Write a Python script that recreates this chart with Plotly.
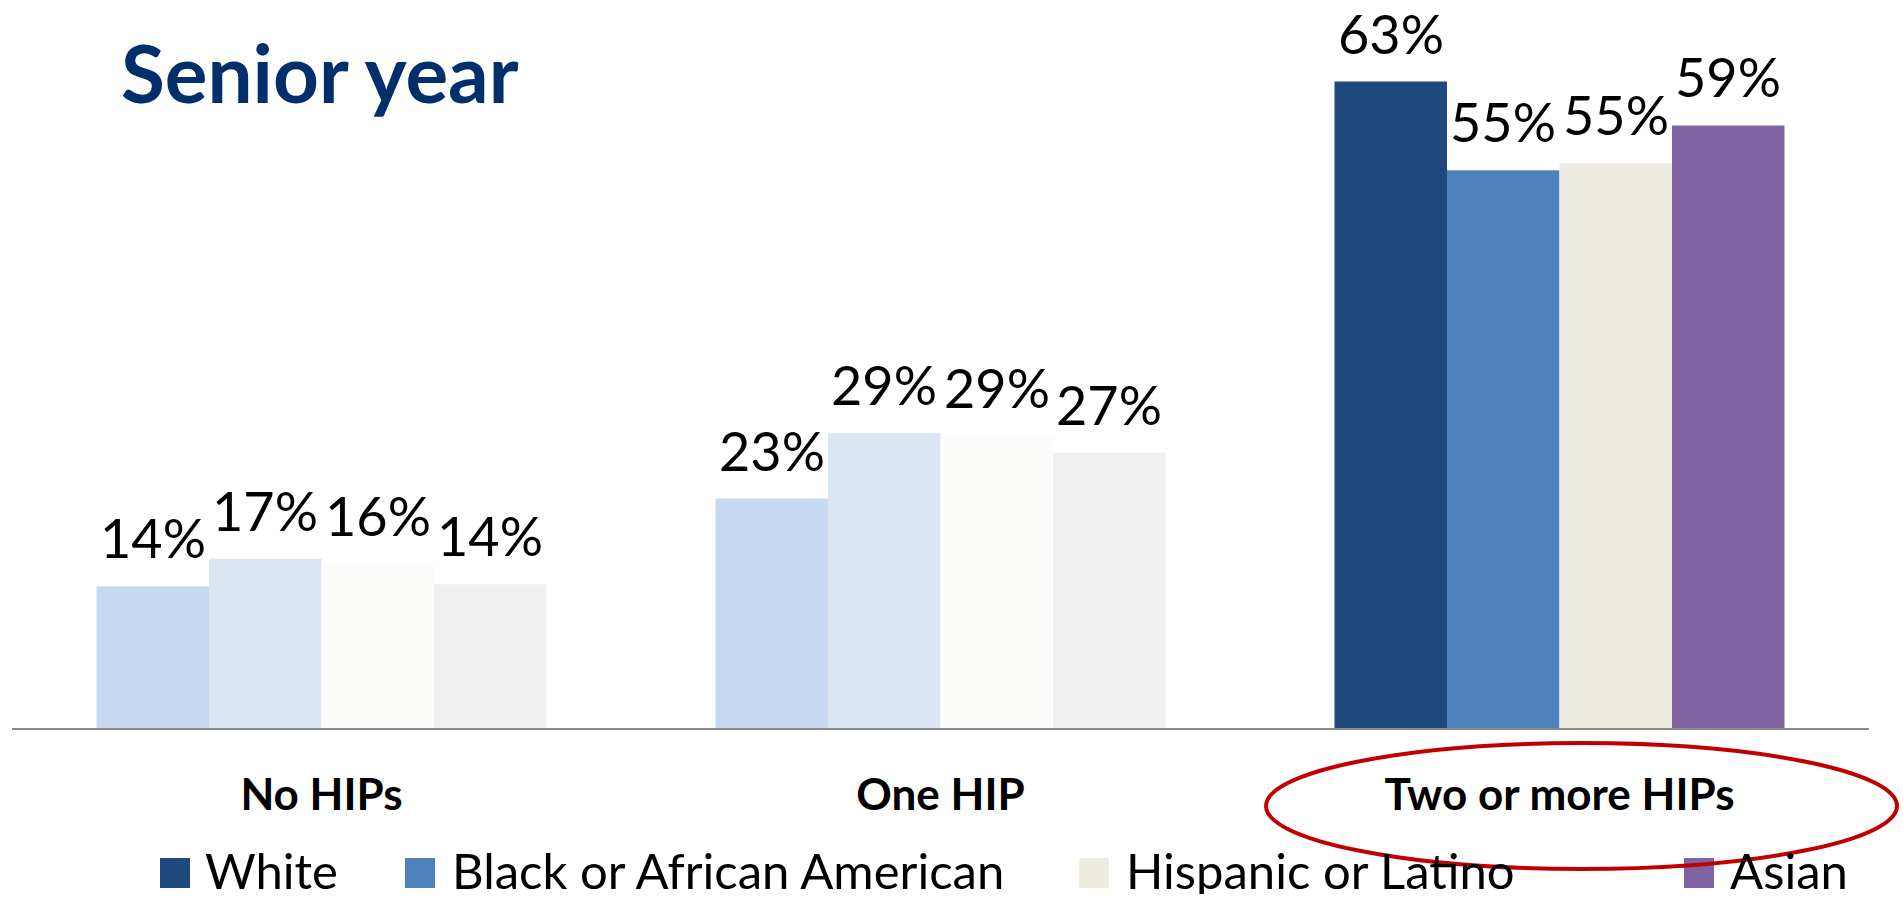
import plotly.graph_objects as go

categories = ["No HIPs", "One HIP", "Two or more HIPs"]
series_names = ["White", "Black or African American", "Hispanic or Latino", "Asian"]

white = [13.9, 22.5, 63.4]
black = [16.6, 28.9, 54.7]
hispanic = [16.1, 28.6, 55.4]
asian = [14.1, 27.0, 59.1]

white_labels = ["14%", "23%", "63%"]
black_labels = ["17%", "29%", "55%"]
hispanic_labels = ["16%", "29%", "55%"]
asian_labels = ["14%", "27%", "59%"]

values = [white, black, hispanic, asian]
labels = [white_labels, black_labels, hispanic_labels, asian_labels]

full_cols = ["#1F497D", "#4F81BD", "#EEECE1", "#8064A2"]
faded_cols = ["#C6D9F0", "#DCE6F2", "#FCFCFA", "#F0F0F0"]

W, H = 1903, 901
ML, MR, MT, MB = 12, 34, 0, 173
PW = W - ML - MR
PH = H - MT - MB
BARGAP = 0.273
FONT = "Lato, 'Open Sans', sans-serif"


def px_x(px):
    return (px - ML) / PW


def px_y(py):
    return (H - MB - py) / PH


fig = go.Figure()

for i, name in enumerate(series_names):
    fig.add_trace(
        go.Bar(
            x=categories,
            y=values[i],
            name=name,
            showlegend=False,
            marker={
                "color": [faded_cols[i], faded_cols[i], full_cols[i]],
                "line": {"width": 0},
            },
        )
    )

# value labels above bars
bar_w = (1 - BARGAP) / len(series_names)
for i in range(len(series_names)):
    for j in range(len(categories)):
        fig.add_annotation(
            x=j + (i - 1.5) * bar_w,
            y=values[i][j],
            xref="x",
            yref="y",
            text=labels[i][j],
            showarrow=False,
            xanchor="center",
            yanchor="bottom",
            yshift=14,
            font={"family": FONT, "size": 54, "color": "#000000"},
        )

# legend drawn by hand so the swatches can be large
legend_sq_x = [160, 405, 1079, 1684]
legend_txt_x = [204, 451, 1125, 1729]
for i, name in enumerate(series_names):
    fig.add_shape(
        type="rect",
        xref="paper",
        yref="paper",
        x0=px_x(legend_sq_x[i]),
        x1=px_x(legend_sq_x[i] + 30),
        y0=px_y(858),
        y1=px_y(888),
        fillcolor=full_cols[i],
        line={"width": 0},
    )
    fig.add_annotation(
        x=px_x(legend_txt_x[i]),
        y=px_y(870),
        xref="paper",
        yref="paper",
        text=name,
        showarrow=False,
        xanchor="left",
        yanchor="middle",
        height=48,
        borderpad=0,
        font={"family": FONT, "size": 49, "color": "#000000"},
    )

# red ellipse round the last category
fig.add_shape(
    type="circle",
    xref="paper",
    yref="paper",
    x0=px_x(1266),
    x1=px_x(1897),
    y0=px_y(869),
    y1=px_y(743),
    line={"color": "#C00000", "width": 4},
)

fig.update_xaxes(
    showline=True,
    linecolor="#8C8C8C",
    linewidth=2,
    showgrid=False,
    ticks="",
    ticklabelstandoff=27,
    tickfont={"family": FONT, "size": 44, "color": "#000000", "weight": "bold"},
)
fig.update_yaxes(
    range=[0, 71.4],
    visible=False,
    showgrid=False,
)

fig.update_layout(
    width=W,
    height=H,
    barmode="group",
    bargap=BARGAP,
    bargroupgap=0,
    plot_bgcolor="white",
    paper_bgcolor="white",
    margin={"l": ML, "r": MR, "t": MT, "b": MB},
    title={
        "text": "<b>Senior year</b>",
        "x": 121 / W,
        "xanchor": "left",
        "y": 1 - 75 / H,
        "yanchor": "middle",
        "font": {"family": FONT, "size": 80, "color": "#002F6B"},
    },
)

fig.write_html(
    "out.html",
    config={"displayModeBar": False},
    post_script="document.body.style.margin = '0';",
)
